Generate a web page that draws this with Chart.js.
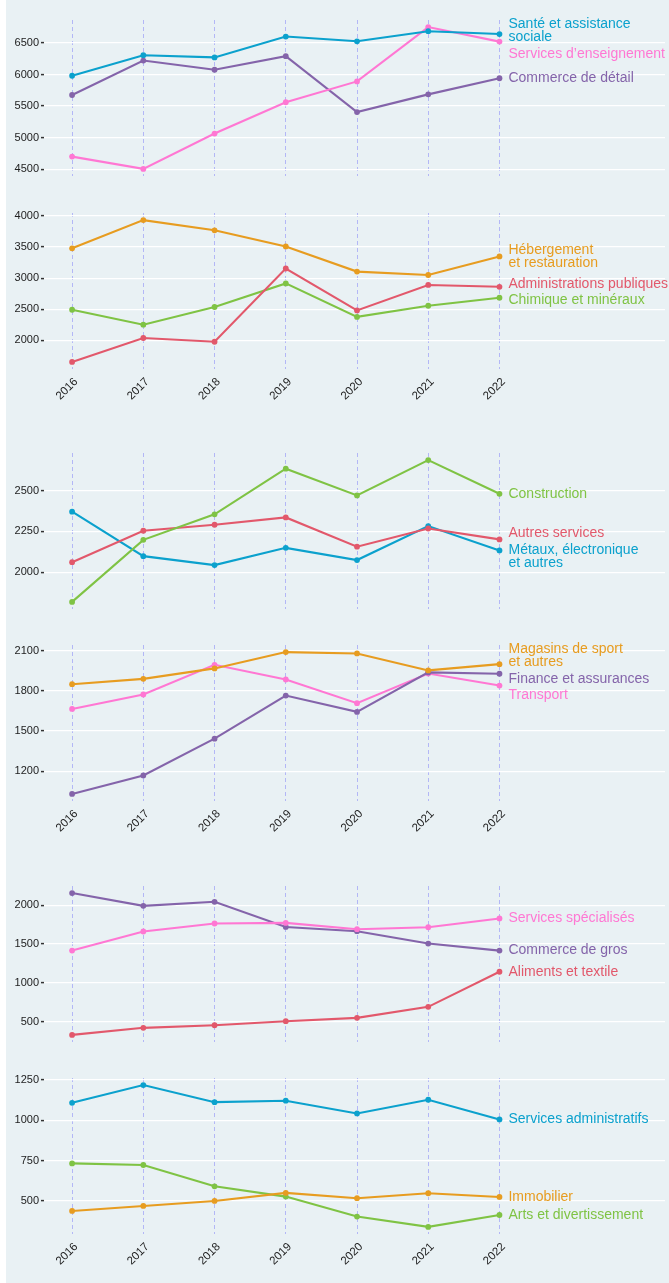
<!DOCTYPE html>
<html>
<head>
<meta charset="utf-8">
<script src="https://cdn.jsdelivr.net/npm/chart.js@4.4.1/dist/chart.umd.min.js"></script>
<style>
  html, body { margin: 0; padding: 0; background: #e9f1f4; overflow: hidden; }
  #strip { position: absolute; left: 0; top: 0; width: 6px; height: 1283px; background: #ffffff; }
  #wrap { position: absolute; left: 6px; top: 0; width: 663px; height: 1283px; background: #e9f1f4; }
  .panel { position: absolute; left: 0; width: 663px; }
</style>
</head>
<body>
<div id="strip"></div>
<div id="wrap"></div>
<script>
// years on the x axis
const years = [2016, 2017, 2018, 2019, 2020, 2021, 2022];

// panel 1
const sante = [5980, 6305, 6270, 6600, 6525, 6685, 6640];
const enseignement = [4700, 4505, 5065, 5560, 5890, 6750, 6520];
const detail = [5675, 6220, 6075, 6290, 5405, 5685, 5940];
const ticks1 = [4500, 5000, 5500, 6000, 6500];

// panel 2
const hebergement = [3480, 3935, 3770, 3510, 3105, 3050, 3350];
const adminPub = [1650, 2035, 1975, 3155, 2480, 2890, 2860];
const chimique = [2490, 2250, 2535, 2915, 2375, 2555, 2685];
const ticks2 = [2000, 2500, 3000, 3500, 4000];

// panel 3
const construction = [1817, 2198, 2355, 2635, 2471, 2688, 2481];
const autresServ = [2061, 2254, 2291, 2336, 2156, 2268, 2201];
const metaux = [2371, 2098, 2043, 2149, 2074, 2283, 2133];
const ticks3 = [2000, 2250, 2500];

// panel 4
const magasins = [1850, 1890, 1968, 2090, 2080, 1953, 2000];
const finance = [1030, 1168, 1443, 1765, 1643, 1938, 1928];
const transport = [1665, 1773, 1995, 1885, 1708, 1930, 1840];
const ticks4 = [1200, 1500, 1800, 2100];

// panel 5
const gros = [2155, 1991, 2043, 1720, 1665, 1506, 1416];
const specialises = [1416, 1661, 1764, 1772, 1691, 1716, 1829];
const aliments = [332, 423, 456, 508, 551, 693, 1144];
const ticks5 = [500, 1000, 1500, 2000];

// panel 6
const adminServ = [1109, 1219, 1113, 1122, 1043, 1128, 1006];
const arts = [733, 723, 591, 527, 403, 339, 413];
const immobilier = [438, 469, 500, 550, 517, 548, 525];
const ticks6 = [500, 750, 1000, 1250];

const col = {
  blue: '#0ba1cd',
  pink: '#ff77d3',
  purple: '#8464aa',
  orange: '#e79c20',
  red: '#e2586b',
  green: '#7fc344'
};

const panels = [
  { top: 20, xLabels: false, ticks: ticks1, series: [
    ['Santé et assistance\nsociale', sante, col.blue],
    ['Services d’enseignement', enseignement, col.pink],
    ['Commerce de détail', detail, col.purple] ] },
  { top: 213, xLabels: true, ticks: ticks2, series: [
    ['Hébergement\net restauration', hebergement, col.orange],
    ['Administrations publiques', adminPub, col.red],
    ['Chimique et minéraux', chimique, col.green] ] },
  { top: 453, xLabels: false, ticks: ticks3, series: [
    ['Construction', construction, col.green],
    ['Autres services', autresServ, col.red],
    ['Métaux, électronique\net autres', metaux, col.blue] ] },
  { top: 645, xLabels: true, ticks: ticks4, series: [
    ['Magasins de sport\net autres', magasins, col.orange],
    ['Finance et assurances', finance, col.purple],
    ['Transport', transport, col.pink] ] },
  { top: 886, xLabels: false, ticks: ticks5, series: [
    ['Services spécialisés', specialises, col.pink],
    ['Commerce de gros', gros, col.purple],
    ['Aliments et textile', aliments, col.red] ] },
  { top: 1078, xLabels: true, ticks: ticks6, series: [
    ['Services administratifs', adminServ, col.blue],
    ['Immobilier', immobilier, col.orange],
    ['Arts et divertissement', arts, col.green] ] }
];

const panelH = 156;
const padTop = 20;
const FONT = "'Liberation Sans', Arial, Helvetica, sans-serif";

// end-of-line labels, pushed apart when they overlap and kept inside the panel
const endLabels = {
  id: 'endLabels',
  afterDatasetsDraw(chart) {
    const ctx = chart.ctx;
    const area = chart.chartArea;
    const lineH = 13.5;
    const items = chart.data.datasets.map((ds, i) => {
      const pts = chart.getDatasetMeta(i).data;
      const last = pts[pts.length - 1];
      const lines = ds.label.split('\n');
      return { lines, color: ds.borderColor, x: last.x + 9, y: last.y, h: lines.length * lineH + 3 };
    }).sort((a, b) => a.y - b.y);
    for (let k = 0; k < 300; k++) {
      for (let i = 1; i < items.length; i++) {
        const a = items[i - 1], b = items[i];
        const over = (a.y + a.h / 2 + b.h / 2) - b.y;
        if (over > 0) { a.y -= over / 2; b.y += over / 2; }
      }
      items.forEach(it => {
        const half = it.lines.length * lineH / 2 - 3;
        it.y = Math.min(Math.max(it.y, area.top + half), area.bottom - half);
      });
    }
    ctx.save();
    ctx.font = '14px ' + FONT;
    ctx.textAlign = 'left';
    ctx.textBaseline = 'middle';
    items.forEach(it => {
      ctx.fillStyle = it.color;
      const y0 = it.y - (it.lines.length - 1) * lineH / 2;
      it.lines.forEach((t, j) => ctx.fillText(t, it.x, y0 + j * lineH));
    });
    ctx.restore();
  }
};

const wrap = document.getElementById('wrap');

panels.forEach(p => {
  const xh = p.xLabels ? 50 : 10;
  const div = document.createElement('div');
  div.className = 'panel';
  div.style.top = (p.top - padTop) + 'px';
  div.style.height = (padTop + panelH + xh) + 'px';
  const canvas = document.createElement('canvas');
  div.appendChild(canvas);
  wrap.appendChild(div);

  const all = p.series.flatMap(s => s[1]);
  const lo = Math.min(...all), hi = Math.max(...all);
  const pad = (hi - lo) * 0.05;

  new Chart(canvas, {
    type: 'line',
    data: {
      datasets: p.series.map(s => ({
        label: s[0],
        data: years.map((y, i) => ({ x: y, y: s[1][i] })),
        borderColor: s[2],
        backgroundColor: s[2],
        pointBackgroundColor: s[2],
        borderWidth: 2.1,
        pointRadius: 2.9,
        pointBorderWidth: 0,
        tension: 0
      }))
    },
    options: {
      responsive: true,
      maintainAspectRatio: false,
      animation: false,
      events: [],
      layout: { padding: { top: padTop, bottom: 0, left: 0, right: 0 } },
      plugins: { legend: { display: false }, tooltip: { enabled: false } },
      scales: {
        x: {
          type: 'linear',
          min: 2016 - 28 / 71,
          max: 2016 + 591 / 71,
          afterBuildTicks: axis => { axis.ticks = years.map(v => ({ value: v })); },
          afterFit: axis => { axis.height = xh; },
          grid: { color: '#b3b7f6', lineWidth: 1, drawTicks: false },
          border: { display: false, dash: [4, 3] },
          ticks: {
            display: p.xLabels,
            autoSkip: false,
            maxRotation: 45,
            minRotation: 45,
            padding: 6,
            labelOffset: 4,
            color: '#222',
            font: { family: FONT, size: 11.5 },
            callback: v => String(v)
          }
        },
        y: {
          z: -1,
          min: lo - pad,
          max: hi + pad,
          afterBuildTicks: axis => { axis.ticks = p.ticks.map(v => ({ value: v })); },
          afterFit: axis => { axis.width = 38; },
          grid: { color: '#ffffff', lineWidth: 1.2, drawTicks: true, tickLength: 3, tickColor: '#333', tickWidth: 1.5 },
          border: { display: false },
          ticks: {
            padding: 2,
            color: '#222',
            font: { family: FONT, size: 11 },
            callback: v => String(v)
          }
        }
      }
    },
    plugins: [endLabels]
  });
});
</script>
</body>
</html>
